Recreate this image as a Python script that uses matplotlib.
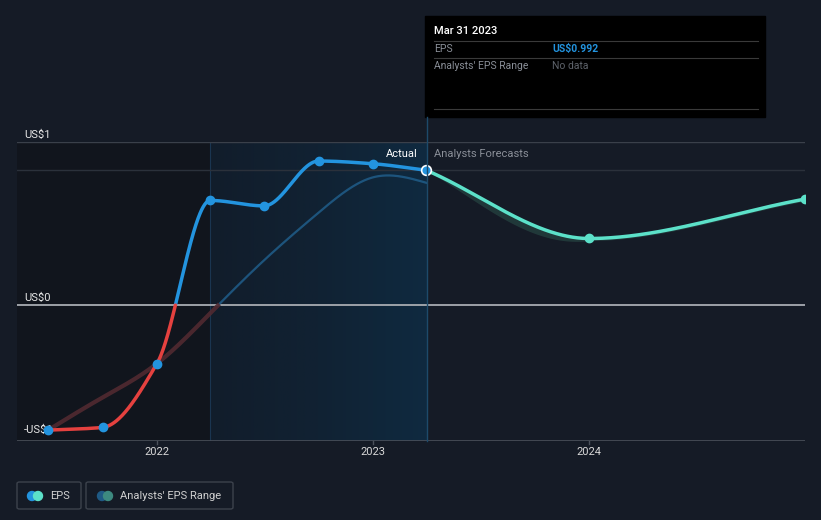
import numpy as np
import pandas as pd
from matplotlib import pyplot as plt
from matplotlib.patches import Rectangle, FancyBboxPatch, Circle
from matplotlib.colors import LinearSegmentedColormap

plt.rcParams['font.family'] = ['Roboto', 'DejaVu Sans']

# EPS history (quarter ends) and analysts' forecasts
eps_dates = ['2021-06-30', '2021-09-30', '2021-12-31', '2022-03-31',
             '2022-06-30', '2022-09-30', '2022-12-31', '2023-03-31']
eps_values = [-0.92, -0.90, -0.43, 0.77, 0.73, 1.06, 1.04, 0.992]

# faint trailing line drawn behind the EPS line
trail_values = [-0.92, -0.68, -0.43, -0.06, 0.33, 0.68, 0.94, 0.90]

fc_dates = ['2023-03-31', '2023-12-31', '2024-12-31']
fc_values = [0.992, 0.49, 0.78]
fc_low = [0.992, 0.475, 0.765]
fc_high = [0.992, 0.495, 0.795]

tick_years = [2022, 2023, 2024]
tick_labels = ['2022', '2023', '2024']


def dec_year(s):
    d = pd.Timestamp(s)
    days = 366 if d.is_leap_year else 365
    return d.year + d.dayofyear / days


def monotone(x, y, n=600):
    # monotone cubic (Fritsch-Carlson), same idea as d3 curveMonotoneX
    x = np.asarray(x, float)
    y = np.asarray(y, float)
    h = np.diff(x)
    d = np.diff(y) / h
    m = np.zeros(len(x))
    m[0], m[-1] = d[0], d[-1]
    for i in range(1, len(x) - 1):
        if d[i - 1] * d[i] <= 0:
            m[i] = 0
        else:
            m[i] = (3 * (h[i - 1] + h[i])) / ((2 * h[i] + h[i - 1]) / d[i - 1] + (h[i] + 2 * h[i - 1]) / d[i])
    return hermite(x, y, m, n)


def natural(x, y, n=600):
    # natural cubic spline, smoother look for the faint line
    x = np.asarray(x, float)
    y = np.asarray(y, float)
    k = len(x)
    h = np.diff(x)
    A = np.zeros((k, k))
    r = np.zeros(k)
    A[0, 0] = A[-1, -1] = 1
    for i in range(1, k - 1):
        A[i, i - 1] = h[i - 1]
        A[i, i] = 2 * (h[i - 1] + h[i])
        A[i, i + 1] = h[i]
        r[i] = 3 * ((y[i + 1] - y[i]) / h[i] - (y[i] - y[i - 1]) / h[i - 1])
    c = np.linalg.solve(A, r)
    b = (y[1:] - y[:-1]) / h - h * (2 * c[:-1] + c[1:]) / 3
    dd = (c[1:] - c[:-1]) / (3 * h)
    xs = np.linspace(x[0], x[-1], n)
    idx = np.clip(np.searchsorted(x, xs) - 1, 0, k - 2)
    t = xs - x[idx]
    ys = y[idx] + b[idx] * t + c[idx] * t**2 + dd[idx] * t**3
    return xs, ys


def hermite(x, y, m, n):
    h = np.diff(x)
    xs = np.linspace(x[0], x[-1], n)
    idx = np.clip(np.searchsorted(x, xs) - 1, 0, len(x) - 2)
    t = (xs - x[idx]) / h[idx]
    h00 = 2 * t**3 - 3 * t**2 + 1
    h10 = t**3 - 2 * t**2 + t
    h01 = -2 * t**3 + 3 * t**2
    h11 = t**3 - t**2
    ys = h00 * y[idx] + h10 * h[idx] * m[idx] + h01 * y[idx + 1] + h11 * h[idx] * m[idx + 1]
    return xs, ys


ex = [dec_year(s) for s in eps_dates]
fx = [dec_year(s) for s in fc_dates]

bg = '#151b26'
fig = plt.figure(figsize=(8.21, 5.2), dpi=100)
fig.patch.set_facecolor(bg)
ax = fig.add_axes([17 / 821, 79 / 520, 788 / 821, 299 / 520])
ax.set_facecolor(bg)
ax.set_xlim(2021.352, 2025.0)
ax.set_ylim(-1.0, 1.2)
for s in ax.spines.values():
    s.set_visible(False)
ax.set_yticks([])
ax.set_xticks([])

# shaded background regions
x0, x_mid, x_now = 2021.352, dec_year('2022-03-31'), ex[-1]
ax.axvspan(x0, x_mid, color='#11151d', zorder=0, lw=0)
grad = np.linspace(0, 1, 256).reshape(1, -1)
cm = LinearSegmentedColormap.from_list('g', ['#111d2b', '#112233', '#0f2a40'])
ax.imshow(grad, extent=[x_mid, x_now, -1.0, 1.2], aspect='auto', cmap=cm, zorder=0.5)
ax.axvline(x_mid, color='#1a3550', lw=0.8, zorder=1)

# grid lines
ax.axhline(1.2, color='#3a404a', lw=1, zorder=1)
ax.axhline(0.992, color='#2b313b', lw=1, zorder=1)
ax.axhline(0, color='#a8acb2', lw=1.3, zorder=2)
ax.axhline(-1.0, color='#4a505a', lw=1.2, zorder=2)

# trailing faint line
tx, ty = natural(ex, trail_values)
ax.plot(tx, np.where(ty >= 0, ty, np.nan), color='#1f5a85', lw=1.6, alpha=0.9, zorder=3)
ax.plot(tx, np.where(ty <= 0, ty, np.nan), color='#512a31', lw=3, alpha=0.9, zorder=3)

# forecast range band
bx, bl = monotone(fx, fc_low)
_, bh = monotone(fx, fc_high)
bl = bl - 0.05 * np.sin(np.clip((bx - fx[0]) / (fx[1] - fx[0]), 0, 1) * np.pi)
ax.fill_between(bx, bl, bh, color='#24403f', alpha=0.8, lw=0, zorder=3)

# EPS line, red below zero, blue above
lx, ly = monotone(ex, eps_values, 2000)
ax.plot(lx, np.where(ly >= 0, ly, np.nan), color='#2394df', lw=2.5, zorder=4, solid_capstyle='round')
ax.plot(lx, np.where(ly <= 0, ly, np.nan), color='#e5413f', lw=2.5, zorder=4, solid_capstyle='round')
ax.plot(ex[:-1], eps_values[:-1], 'o', color='#2394df', ms=6, zorder=5)

# forecast line
px, py = monotone(fx, fc_values)
ax.plot(px, py, color='#5ce1c9', lw=2.5, zorder=4)
ax.plot(fx[1:], fc_values[1:], 'o', color='#5ce1c9', ms=6, zorder=5)
ax.plot(ex[-1], eps_values[-1], 'o', color='#2394df', mec='white', mew=1.2, ms=7, zorder=6)

# x ticks
for yr, lab in zip(tick_years, tick_labels):
    ax.plot([yr, yr], [-1.0, -1.02], color='#4a505a', lw=1, clip_on=False)
    ax.text(yr, -1.045, lab, color='#d8d8d8', fontsize=8, ha='center', va='top')

# y labels
ax.text(2021.385, 1.215, 'US$1', color='#e8e8e8', fontsize=8, va='bottom')
ax.text(2021.385, 0.015, 'US$0', color='#e8e8e8', fontsize=8, va='bottom')
ax.text(2021.385, -0.92, '-US$1', color='#e8e8e8', fontsize=8, va='center')

ax.text(x_now - 0.04, 1.11, 'Actual', color='#ffffff', fontsize=8, ha='right', va='center')
ax.text(x_now + 0.035, 1.11, 'Analysts Forecasts', color='#8a8f98', fontsize=8, ha='left', va='center')

# vertical marker line to the tooltip
fig.add_artist(plt.Line2D([427 / 821, 427 / 821], [79 / 520, 403 / 520], color='#1d4a6a', lw=1))

# tooltip box
fig.add_artist(Rectangle((425 / 821, 403 / 520), 340 / 821, 101 / 520, color='#000000', transform=fig.transFigure))
fig.text(434 / 821, 489 / 520, 'Mar 31 2023', color='#ffffff', fontsize=8, va='center', weight='medium')
for yy in [479, 462, 411]:
    fig.add_artist(plt.Line2D([434 / 821, 758 / 821], [yy / 520, yy / 520], color='#3a3a3a', lw=0.8))
fig.text(434 / 821, 471 / 520, 'EPS', color='#8a8f98', fontsize=7.5, va='center')
fig.text(552 / 821, 471 / 520, 'US$0.992', color='#2394df', fontsize=7.5, va='center', weight='bold')
fig.text(434 / 821, 454 / 520, "Analysts' EPS Range", color='#8a8f98', fontsize=7.5, va='center')
fig.text(552 / 821, 454 / 520, 'No data', color='#5e636b', fontsize=7.5, va='center')

# legend
for bx0, bw in [(17, 64), (86, 147)]:
    fig.add_artist(FancyBboxPatch((bx0 / 821, 11 / 520), bw / 821, 27 / 520,
                                  boxstyle='round,pad=0,rounding_size=0.003',
                                  fc='none', ec='#3c424c', lw=1, transform=fig.transFigure))
ax_leg = fig.add_axes([0, 0, 1, 1], facecolor='none')
ax_leg.set_xlim(0, 821)
ax_leg.set_ylim(520, 0)
ax_leg.axis('off')
ax_leg.add_patch(Circle((32, 496), 4.5, color='#2394df'))
ax_leg.add_patch(Circle((38, 496), 4.5, color='#5ce1c9'))
ax_leg.add_patch(Circle((102, 496), 4.5, color='#1f5a85'))
ax_leg.add_patch(Circle((108, 496), 4.5, color='#3d8a80'))
ax_leg.text(50, 496, 'EPS', color='#d0d0d0', fontsize=8, va='center')
ax_leg.text(120, 496, "Analysts' EPS Range", color='#d0d0d0', fontsize=8, va='center')

fig.savefig('out.png', dpi=100, facecolor=bg)
